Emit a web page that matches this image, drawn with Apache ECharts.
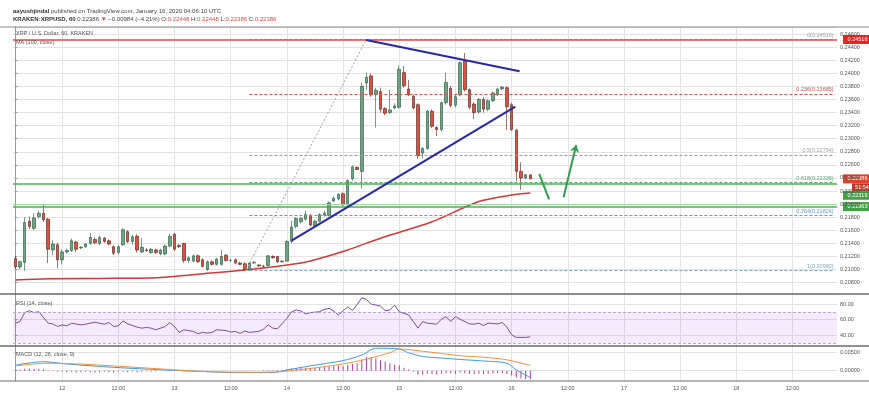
<!DOCTYPE html>
<html><head><meta charset="utf-8">
<script src="https://cdn.jsdelivr.net/npm/echarts@6/dist/echarts.min.js"></script>
<style>html,body{margin:0;padding:0;background:#fff}#c{width:869px;height:393px}</style>
</head><body><div id="c"></div>
<script>
// Hourly candles, XRP/USD Kraken, from Jan 11 14:00 UTC (index 0) to Jan 16 04:00 UTC (index 110)
const opens = [0.2117,0.2104,0.2111,0.2174,0.2163,0.2181,0.2186,0.2177,0.2130,0.2138,
0.2115,0.2127,0.2129,0.2142,0.2133,0.2135,0.2140,0.2146,0.2140,0.2148,
0.2144,0.2135,0.2126,0.2138,0.2158,0.2143,0.2151,0.2127,0.2130,0.2126,
0.2130,0.2124,0.2124,0.2136,0.2154,0.2137,0.2140,0.2114,0.2113,0.2121,
0.2115,0.2100,0.2112,0.2108,0.2108,0.2122,0.2114,0.2115,0.2110,0.2109,
0.2099,0.2110,0.2107,0.2105,0.2106,0.2120,0.2120,0.2112,0.2113,0.2143,
0.2166,0.2173,0.2177,0.2183,0.2167,0.2174,0.2183,0.2183,0.2205,0.2208,
0.2216,0.2199,0.2239,0.2256,0.2250,0.2385,0.2396,0.2368,0.2372,0.2346,
0.2340,0.2347,0.2348,0.2401,0.2376,0.2365,0.2352,0.2278,0.2285,0.2342,
0.2317,0.2314,0.2355,0.2377,0.2351,0.2367,0.2419,0.2375,0.2353,0.2341,
0.2360,0.2345,0.2358,0.2367,0.2376,0.2378,0.2352,0.2313,0.2250,0.2240,
0.22448];
const highs = [0.2121,0.2114,0.2180,0.2181,0.2186,0.2190,0.2199,0.2179,0.2145,0.2141,
0.2131,0.2132,0.2147,0.2144,0.2136,0.2140,0.2156,0.2149,0.2152,0.2150,
0.2146,0.2137,0.2137,0.2163,0.2160,0.2153,0.2154,0.2148,0.2133,0.2133,
0.2132,0.2132,0.2138,0.2155,0.2156,0.2139,0.2141,0.2120,0.2123,0.2123,
0.2117,0.2114,0.2114,0.2118,0.2130,0.2124,0.2116,0.2117,0.2112,0.2111,
0.2111,0.2113,0.2108,0.2107,0.2122,0.2122,0.2121,0.2114,0.2145,0.2175,
0.2180,0.2180,0.2190,0.2185,0.2176,0.2186,0.2190,0.2204,0.2212,0.2217,
0.2218,0.2238,0.2259,0.2258,0.2386,0.2401,0.2400,0.2378,0.2378,0.2348,
0.2375,0.2354,0.2412,0.2411,0.2390,0.2367,0.2354,0.2287,0.2344,0.2345,
0.2319,0.2357,0.2401,0.2381,0.2367,0.2418,0.2431,0.2377,0.2356,0.2362,
0.2364,0.2360,0.2372,0.2378,0.2380,0.2380,0.2355,0.2315,0.2264,0.2246,
0.22448];
const lows = [0.2101,0.2101,0.2098,0.2162,0.2160,0.2178,0.2173,0.2110,0.2122,0.2102,
0.2108,0.2125,0.2127,0.2127,0.2131,0.2133,0.2138,0.2139,0.2137,0.2141,
0.2137,0.2122,0.2124,0.2136,0.2140,0.2138,0.2126,0.2125,0.2127,0.2124,
0.2124,0.2122,0.2122,0.2134,0.2129,0.2133,0.2110,0.2110,0.2111,0.2110,
0.2103,0.2098,0.2106,0.2106,0.2106,0.2112,0.2112,0.2108,0.2107,0.2099,
0.2099,0.2109,0.2104,0.2103,0.2105,0.2117,0.2110,0.2111,0.2112,0.2140,
0.2163,0.2170,0.2175,0.2166,0.2165,0.2172,0.2181,0.2181,0.2203,0.2206,
0.2196,0.2197,0.2236,0.2252,0.2224,0.2375,0.2364,0.2317,0.2340,0.2336,
0.2338,0.2345,0.2346,0.2378,0.2365,0.2345,0.2270,0.2270,0.2283,0.2316,
0.2304,0.2311,0.2352,0.2348,0.2348,0.2365,0.2372,0.2345,0.2330,0.2338,
0.2340,0.2342,0.2356,0.2365,0.2374,0.2313,0.2312,0.2235,0.2222,0.2238,
0.22386];
const closes = [0.2104,0.2112,0.2172,0.2166,0.2179,0.2186,0.2176,0.2131,0.2139,0.2115,
0.2127,0.2129,0.2144,0.2131,0.2134,0.2139,0.2149,0.2141,0.2149,0.2143,
0.2139,0.2125,0.2135,0.2161,0.2143,0.2150,0.2130,0.2134,0.2129,0.2131,
0.2126,0.2130,0.2136,0.2151,0.2131,0.2135,0.2114,0.2118,0.2121,0.2112,
0.2105,0.2112,0.2108,0.2116,0.2120,0.2114,0.2114,0.2110,0.2108,0.2100,
0.2110,0.2111,0.2106,0.2105,0.2121,0.2118,0.2112,0.2113,0.2143,0.2165,
0.2178,0.2178,0.2184,0.2168,0.2174,0.2184,0.2186,0.2202,0.2209,0.2215,
0.2199,0.2236,0.2257,0.2253,0.2380,0.2394,0.2367,0.2374,0.2345,0.2339,
0.2344,0.2350,0.2406,0.2381,0.2367,0.2347,0.2274,0.2285,0.2342,0.2319,
0.2314,0.2355,0.2386,0.2351,0.2364,0.2416,0.2375,0.2348,0.2340,0.2360,
0.2345,0.2358,0.2370,0.2376,0.2379,0.2349,0.2314,0.2250,0.2240,0.2245,
0.22386];
// MA(100) read points [candle index, value]
const maPoints = [[0,0.2084],[7,0.2086],[18,0.20865],[29,0.2087],[39,0.2093],[50,0.2100],[61,0.2110],[64,0.2115],[71,0.2130],[78,0.2148],[89,0.2173],[99,0.2204],[106,0.2214],[110,0.2217]];
// RSI(14) read points
const rsiPoints = [[0,55.4],[1,57.5],[2,69.0],[3,71.5],[4,69.0],[5,70.2],[7,55.4],[8,54.5],[9,51.1],[10,53.2],[11,52.0],[12,55.4],[14,53.2],[15,54.1],[16,55.4],[17,56.6],[19,54.1],[20,56.2],[21,51.1],[22,52.0],[23,58.3],[24,54.5],[26,50.3],[27,49.0],[28,49.9],[29,49.0],[30,46.9],[32,51.1],[33,56.2],[34,51.1],[35,43.5],[36,46.9],[38,44.8],[39,41.8],[40,43.5],[41,42.6],[42,43.5],[43,46.9],[45,46.0],[46,43.9],[47,44.8],[48,42.2],[49,45.2],[50,43.5],[52,44.8],[53,47.7],[54,53.2],[55,49.0],[56,48.2],[58,61.7],[59,69.8],[60,72.4],[61,71.1],[62,67.3],[63,69.0],[65,70.2],[66,73.2],[67,74.5],[68,71.1],[69,66.0],[71,76.6],[72,71.5],[73,79.6],[74,88.1],[75,85.9],[76,80.0],[78,77.5],[79,71.5],[80,72.4],[81,78.7],[82,70.2],[84,66.0],[85,57.5],[86,49.0],[87,57.5],[88,55.4],[90,54.1],[91,60.5],[92,63.9],[93,57.5],[94,63.9],[95,60.5],[97,54.5],[98,54.1],[99,55.4],[100,52.4],[101,55.4],[103,54.5],[104,56.2],[105,50.3],[106,40.5],[107,37.1],[109,37.1],[110,37.8]];
// MACD(12,26,9) read points
const macdPoints = [[0,0.0015],[6,0.0024],[11,0.0018],[21,0.0009],[32,0.0002],[40,-0.0002],[47,-0.0005],[55,-0.0005],[58,0.0002],[63,0.0013],[70,0.0027],[74,0.0042],[77,0.0060],[82,0.0058],[84,0.0048],[87,0.0038],[92,0.0033],[95,0.0030],[100,0.0026],[105,0.0020],[107,0.0002],[110,-0.0018]];
const signalPoints = [[0,0.0013],[7,0.0020],[15,0.0017],[27,0.0008],[40,-0.0002],[50,-0.0004],[56,-0.0003],[63,0.0006],[70,0.0018],[75,0.0031],[80,0.0048],[82,0.0058],[87,0.0052],[95,0.0040],[100,0.0036],[105,0.0029],[110,0.0014]];
// MACD histogram, one bar per candle (index 0..110)
const histValues = [0.0002,0.0003,0.0005,0.0006,0.0005,0.0005,0.0004,0.0001,-0.0001,-0.0003,
-0.0002,-0.0004,-0.0003,-0.0005,-0.0004,-0.0003,-0.0004,-0.0005,-0.0004,-0.0003,
-0.0004,-0.0005,-0.0003,-0.0002,-0.0004,-0.0003,-0.0004,-0.0003,-0.0002,-0.0003,
-0.0002,-0.0001,-0.0001,0.0001,-0.0001,-0.0001,-0.0002,-0.0002,-0.0001,-0.0001,
-0.0002,-0.0001,-0.0001,0.0000,-0.0001,-0.0001,0.0000,-0.0001,-0.0001,-0.0001,
0.0000,-0.0001,0.0000,0.0001,0.0001,0.0001,0.0002,0.0002,0.0004,0.0006,
0.0007,0.0007,0.0008,0.0007,0.0008,0.0009,0.0010,0.0011,0.0012,0.0013,
0.0012,0.0015,0.0018,0.0020,0.0030,0.0036,0.0035,0.0033,0.0028,0.0024,
0.0020,0.0016,0.0014,0.0008,0.0003,-0.0003,-0.0010,-0.0011,-0.0008,-0.0009,
-0.0010,-0.0008,-0.0006,-0.0007,-0.0008,-0.0005,-0.0006,-0.0008,-0.0009,-0.0008,
-0.0009,-0.0008,-0.0007,-0.0006,-0.0006,-0.0009,-0.0013,-0.0018,-0.0021,-0.0022,
-0.0023];
// x-axis tick labels (Jan 12 00:00 ... Jan 18 12:00, every 12 hours)
const xTickLabels = ['12','12:00','13','12:00','14','12:00','15','12:00','16','12:00','17','12:00','18','12:00'];
const firstTickIndex = 10; // Jan 12 00:00 is candle slot 10
// Fibonacci retracement levels
const fibLevels = [['0',0.24516],['0.236',0.23685],['0.5',0.22754],['0.618',0.22338],['0.764',0.21824],['1',0.20992]];
const fibColors = ['#9e9e9e','#d9534f','#9e9e9e','#5aaa78','#5b9bd5','#7fa7c9'];
const fibStart = 50;
// drawn lines (candle index, price)
const upperTrend = [[74.9,0.24508],[107.7,0.24030]];
const lowerTrend = [[59.0,0.21442],[106.8,0.23489]];
const fibDiag = [[49.3,0.20994],[74.9,0.24508]];
const arrowDown = [[111.9,0.22461],[114.0,0.22074]];
const arrowUp = [[117.1,0.22105],[119.8,0.22904]];
const resistance = 0.24516, support1 = 0.22319, support2 = 0.21963, lastPrice = 0.22386;

const chart = echarts.init(document.getElementById('c'), null, {renderer:'canvas'});
const FONT = 'Liberation Sans';
const N = 176;
const tickVals = xTickLabels.map((_, i) => firstTickIndex + 12 * i);
const candleData = opens.map((o, i) => [i, o, closes[i], lows[i], highs[i]]);
const histData = histValues.map((v, i) => [i, v]);

function xAxisFor(g, showLabel) {
  return {
    type: 'value', gridIndex: g, min: -0.5, max: N - 0.5,
    axisLine: {show: false}, axisTick: {show: false, customValues: tickVals},
    axisLabel: {show: showLabel, customValues: tickVals, fontFamily: FONT, fontSize: 5.5, color: '#555', margin: 4,
      formatter: v => xTickLabels[Math.round((v - firstTickIndex) / 12)] || ''},
    splitLine: {show: true, lineStyle: {color: '#e3e3e3', width: 1}}
  };
}
const hl = (y, color, width, type, label) => ({yAxis: y, lineStyle: {color, width, type: type || 'solid'}, label: label || {show: false}});
const seg = (pts, color, width, type) => [{coord: pts[0], lineStyle: {color, width, type: type || 'solid'}}, {coord: pts[1]}];

const option = {
  animation: false,
  backgroundColor: '#ffffff',
  grid: [
    {left: 13, right: 32, top: 27, height: 267},
    {left: 13, right: 32, top: 294, height: 52},
    {left: 13, right: 32, top: 346, height: 35}
  ],
  xAxis: [xAxisFor(0, false), xAxisFor(1, false), xAxisFor(2, true)],
  yAxis: [
    {type: 'value', gridIndex: 0, position: 'right', min: 0.20627, max: 0.24707, splitNumber: 20,
      axisLine: {show: true, lineStyle: {color: '#9a9a9a'}}, axisTick: {show: true, length: 2, lineStyle: {color: '#9a9a9a'}},
      axisLabel: {fontFamily: FONT, fontSize: 5.5, color: '#555', margin: 3, showMinLabel: false, showMaxLabel: false, formatter: v => v.toFixed(5)},
      splitLine: {lineStyle: {color: '#e3e3e3'}}},
    {type: 'value', gridIndex: 1, position: 'right', min: 26, max: 93,
      axisLine: {show: true, lineStyle: {color: '#9a9a9a'}}, axisTick: {show: true, length: 2, customValues: [40, 60, 80], lineStyle: {color: '#9a9a9a'}},
      axisLabel: {fontFamily: FONT, fontSize: 5.5, color: '#555', margin: 3, customValues: [40, 60, 80], formatter: v => v.toFixed(2)},
      splitLine: {lineStyle: {color: '#e3e3e3'}}},
    {type: 'value', gridIndex: 2, position: 'right', min: -0.00275, max: 0.0066,
      axisLine: {show: true, lineStyle: {color: '#9a9a9a'}}, axisTick: {show: true, length: 2, customValues: [0, 0.005], lineStyle: {color: '#9a9a9a'}},
      axisLabel: {fontFamily: FONT, fontSize: 5.5, color: '#555', margin: 3, customValues: [0, 0.005], formatter: v => v.toFixed(5)},
      splitLine: {lineStyle: {color: '#e3e3e3'}}}
  ],
  series: [
    {type: 'line', xAxisIndex: 0, yAxisIndex: 0, data: maPoints, symbol: 'none', smooth: 0.3,
      lineStyle: {color: '#d0383a', width: 1.5}, z: 3},
    {type: 'candlestick', xAxisIndex: 0, yAxisIndex: 0, data: candleData, barWidth: 3,
      itemStyle: {color: '#6ba583', color0: '#d75442', borderColor: '#225437', borderColor0: '#5b1a13', borderWidth: 0.6}, z: 4},
    {type: 'line', xAxisIndex: 0, yAxisIndex: 0, data: [], symbol: 'none', z: 5,
      markLine: {silent: true, symbol: 'none', animation: false, precision: 6,
        data: [
          ...fibLevels.map((f, i) => [
            {coord: [fibStart, f[1]], lineStyle: {color: fibColors[i], width: 1, type: [3, 2]},
              label: {show: true, position: 'insideEndTop', distance: 1, formatter: f[0] + '(' + f[1].toFixed(5) + ')', color: fibColors[i], fontFamily: FONT, fontSize: 5.5}},
            {coord: [N - 1, f[1]]}
          ]),
          hl(resistance, '#e04a4a', 1.5),
          hl(support1, '#4caf50', 1.5),
          hl(support2, '#4caf50', 1.5),
          hl(support2 + 0.00035, '#a5d6a7', 1),
          seg(fibDiag, '#a0a0a0', 1, [2, 2]),
          seg(upperTrend, '#2727a8', 2),
          seg(lowerTrend, '#2727a8', 2),
          seg(arrowDown, '#2e9e4e', 2),
          [{coord: arrowUp[0], lineStyle: {color: '#2e9e4e', width: 2, type: 'solid'}, symbol: 'none'}, {coord: arrowUp[1], symbol: 'arrow', symbolSize: 7}]
        ]}},
    {type: 'line', xAxisIndex: 1, yAxisIndex: 1, data: rsiPoints, symbol: 'none',
      lineStyle: {color: '#7e4a9e', width: 1}, z: 3,
      markArea: {silent: true, itemStyle: {color: 'rgba(153,21,255,0.09)'}, data: [[{yAxis: 30}, {yAxis: 70}]]},
      markLine: {silent: true, symbol: 'none', label: {show: false},
        data: [hl(70, '#b8a8c8', 1, [3, 2]), hl(30, '#b8a8c8', 1, [3, 2])]}},
    {type: 'bar', xAxisIndex: 2, yAxisIndex: 2, data: histData, barWidth: 1,
      itemStyle: {color: '#b23aa0'}, z: 2},
    {type: 'line', xAxisIndex: 2, yAxisIndex: 2, data: macdPoints, symbol: 'none', smooth: 0.3,
      lineStyle: {color: '#3d9be0', width: 1}, z: 3},
    {type: 'line', xAxisIndex: 2, yAxisIndex: 2, data: signalPoints, symbol: 'none', smooth: 0.3,
      lineStyle: {color: '#f0913a', width: 1}, z: 3}
  ]
};
chart.setOption(option);

// Right-axis price tags and text overlays
const py = v => chart.convertToPixel({yAxisIndex: 0}, v);
const tag = (val, text, color, dy, w) => ({
  type: 'group', x: 837, y: py(val) + (dy || 0), z: 100,
  children: [
    {type: 'rect', shape: {x: 38 - (w || 31) - 1, y: -4.5, width: (w || 31), height: 9}, style: {fill: color}},
    {type: 'text', style: {x: 36 - (w || 31) / 2, y: 0, text, fill: '#fff', font: '5.5px ' + FONT, align: 'center', verticalAlign: 'middle'}}
  ]
});
const txt = (x, y, text, extra) => ({type: 'text', x, y, z: 100, style: Object.assign({text, fill: '#444', font: '6px ' + FONT, verticalAlign: 'middle'}, extra || {})});
chart.setOption({
  graphic: [
    {type: 'line', shape: {x1: 0, y1: 27, x2: 869, y2: 27}, style: {stroke: '#8c8c8c', lineWidth: 1}, z: 90},
    {type: 'line', shape: {x1: 0, y1: 294, x2: 869, y2: 294}, style: {stroke: '#6a6a6a', lineWidth: 1.5}, z: 90},
    {type: 'line', shape: {x1: 0, y1: 346, x2: 869, y2: 346}, style: {stroke: '#6a6a6a', lineWidth: 1.5}, z: 90},
    {type: 'line', shape: {x1: 0, y1: 381, x2: 869, y2: 381}, style: {stroke: '#6a6a6a', lineWidth: 1}, z: 90},
    txt(13, 11, '{b|aayushjindal} published on TradingView.com, January 16, 2020 04:06:10 UTC', {rich: {b: {fontWeight: 'bold', fontFamily: FONT, fontSize: 6, fill: '#333'}}}),
    txt(13, 19.5, '{b|KRAKEN:XRPUSD, 60} 0.22386 {r|▼} −0.00984 (−4.21%) O:{r|0.22448} H:{r|0.22448} L:{r|0.22386} C:{r|0.22386}',
      {rich: {b: {fontWeight: 'bold', fontFamily: FONT, fontSize: 6, fill: '#333'}, r: {fill: '#e04a4a', fontFamily: FONT, fontSize: 6}}}),
    txt(16, 33.5, 'XRP / U.S. Dollar, 60, KRAKEN', {fill: '#555', font: '5.5px ' + FONT}),
    txt(16, 42.5, 'MA (100, close)', {fill: '#555', font: '5.5px ' + FONT}),
    txt(16, 303, 'RSI (14, close)', {fill: '#555', font: '5.5px ' + FONT}),
    txt(16, 354, 'MACD (12, 26, close, 9)', {fill: '#555', font: '5.5px ' + FONT}),
    tag(resistance, resistance.toFixed(5), '#e8231c', 0),
    tag(lastPrice, lastPrice.toFixed(5), '#d9432f', 0),
    tag(lastPrice, '51:54', '#c1392b', 9, 22),
    tag(support1, support1.toFixed(5), '#43a047', 12),
    tag(support2, support2.toFixed(5), '#43a047', 0)
  ]
});
</script></body></html>
